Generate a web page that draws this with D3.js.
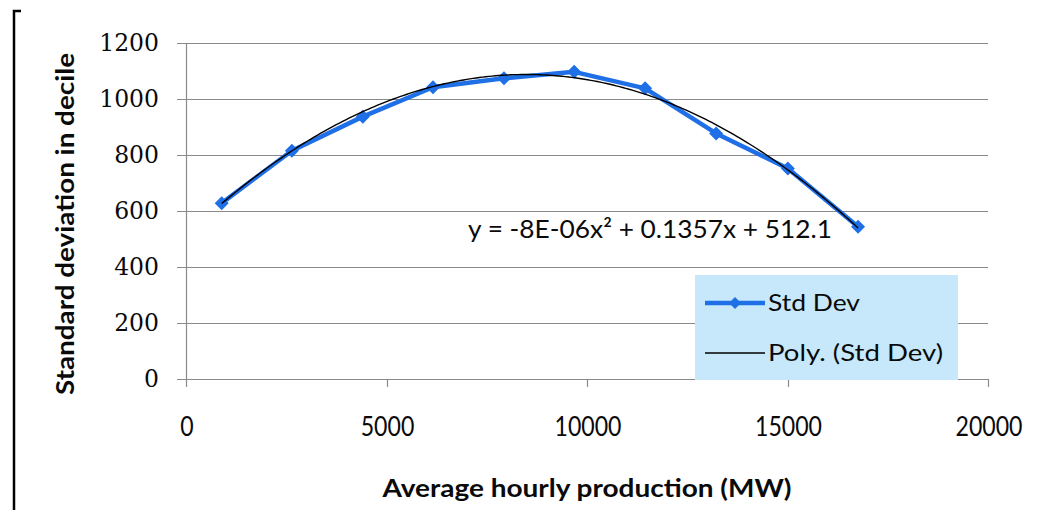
<!DOCTYPE html>
<html>
<head>
<meta charset="utf-8">
<script src="https://cdn.jsdelivr.net/npm/d3@7"></script>
<style>
  html, body { margin: 0; padding: 0; background: #fff; }
  svg { display: block; }
</style>
</head>
<body>
<script>
// ---- data ----
const production = [890, 2640, 4410, 6160, 7930, 9680, 11450, 13220, 15010, 16760];
const stdDev     = [628, 815, 937, 1042, 1074, 1097, 1038, 877, 752, 544];
const xTicks = [0, 5000, 10000, 15000, 20000];
const yTicks = [0, 200, 400, 600, 800, 1000, 1200];
const trendCoef = [512.1, 0.1357, -8e-6]; // c0, c1, c2
const equationLabel = "y = -8E-06x\u00B2 + 0.1357x + 512.1";
const seriesNames = ["Std Dev", "Poly. (Std Dev)"];
const xTitle = "Average hourly production (MW)";
const yTitle = "Standard deviation in decile";

const W = 1061, H = 510;
const svg = d3.select("body").append("svg").attr("width", W).attr("height", H);

const x = d3.scaleLinear().domain([0, 20000]).range([186, 988]);
const y = d3.scaleLinear().domain([0, 1200]).range([379, 43]);

const gridColor = "#8a8a8a";
const blue = "#1F6FE6";
const ink = "#0a0a0a";

// left bracket border
svg.append("path").attr("d", "M21,11 H14 V510").attr("fill", "none")
  .attr("stroke", "#000").attr("stroke-width", 2.5);

// gridlines
svg.append("g").selectAll("line").data(yTicks).join("line")
  .attr("x1", 177).attr("x2", x(20000))
  .attr("y1", d => Math.round(y(d)) + 0.5).attr("y2", d => Math.round(y(d)) + 0.5)
  .attr("stroke", gridColor).attr("stroke-width", 1.2);

// y axis line
svg.append("line").attr("x1", x(0) + 0.5).attr("x2", x(0) + 0.5)
  .attr("y1", y(1200)).attr("y2", y(0)).attr("stroke", gridColor).attr("stroke-width", 1.2);

// x ticks
svg.append("g").selectAll("line").data(xTicks).join("line")
  .attr("x1", d => Math.round(x(d)) + 0.5).attr("x2", d => Math.round(x(d)) + 0.5)
  .attr("y1", y(0)).attr("y2", y(0) + 8)
  .attr("stroke", gridColor).attr("stroke-width", 1.2);

// y tick labels
svg.append("g").selectAll("text").data(yTicks).join("text")
  .attr("x", 159).attr("y", d => y(d))
  .attr("dy", "0.36em")
  .attr("text-anchor", "end")
  .attr("font-family", "DejaVu Serif")
  .attr("font-size", 23.5)
  .attr("fill", ink)
  .text(d => d);

// x tick labels
svg.append("g").selectAll("text").data(xTicks).join("text")
  .attr("x", d => x(d) + 1).attr("y", 436)
  .attr("text-anchor", "middle")
  .attr("font-family", "Lato")
  .attr("font-size", 26)
  .attr("fill", ink)
  .attr("textLength", d => String(d).length * 13.4)
  .attr("lengthAdjust", "spacingAndGlyphs")
  .text(d => d);

// axis titles
svg.append("text").attr("x", 587).attr("y", 497)
  .attr("text-anchor", "middle")
  .attr("font-family", "Lato").attr("font-weight", "bold")
  .attr("font-size", 25).attr("fill", ink)
  .attr("textLength", 409).attr("lengthAdjust", "spacingAndGlyphs")
  .text(xTitle);

svg.append("text").attr("transform", "translate(74,224) rotate(-90)")
  .attr("text-anchor", "middle")
  .attr("font-family", "Lato").attr("font-weight", "bold")
  .attr("font-size", 24).attr("fill", ink)
  .attr("textLength", 342).attr("lengthAdjust", "spacingAndGlyphs")
  .text(yTitle);

// data series
const pts = production.map((p, i) => [p, stdDev[i]]);
svg.append("path").datum(pts)
  .attr("d", d3.line().x(d => x(d[0])).y(d => y(d[1])))
  .attr("fill", "none").attr("stroke", blue).attr("stroke-width", 4.5)
  .attr("stroke-linejoin", "round");

const marker = d3.symbol().type(d3.symbolSquare).size(98);
svg.append("g").selectAll("path").data(pts).join("path")
  .attr("transform", d => `translate(${x(d[0])},${y(d[1])}) rotate(45)`)
  .attr("d", marker)
  .attr("fill", blue);

// polynomial trendline
const x0 = d3.min(production), x1 = d3.max(production);
const trend = d3.range(0, 201).map(i => {
  const xv = x0 + (x1 - x0) * i / 200;
  return [xv, trendCoef[0] + trendCoef[1] * xv + trendCoef[2] * xv * xv];
});
svg.append("path").datum(trend)
  .attr("d", d3.line().x(d => x(d[0])).y(d => y(d[1])))
  .attr("fill", "none").attr("stroke", "#000").attr("stroke-width", 1.4);

// equation label
svg.append("text").attr("x", 468).attr("y", 238)
  .attr("font-family", "Lato").attr("font-size", 25).attr("fill", ink)
  .attr("textLength", 364).attr("lengthAdjust", "spacingAndGlyphs")
  .text(equationLabel);

// legend
const lg = svg.append("g");
lg.append("rect").attr("x", 695).attr("y", 275).attr("width", 263).attr("height", 105)
  .attr("fill", "#C7E8FB");
lg.append("line").attr("x1", 705).attr("x2", 765).attr("y1", 303).attr("y2", 303)
  .attr("stroke", blue).attr("stroke-width", 4.5);
lg.append("path").attr("transform", "translate(735,303) rotate(45)")
  .attr("d", d3.symbol().type(d3.symbolSquare).size(70)).attr("fill", blue);
lg.append("line").attr("x1", 705).attr("x2", 765).attr("y1", 353).attr("y2", 353)
  .attr("stroke", "#000").attr("stroke-width", 1.4);
const legLens = [92, 175];
lg.selectAll("text.leg").data(seriesNames).join("text")
  .attr("class", "leg")
  .attr("x", 768).attr("y", (d, i) => 311 + i * 50)
  .attr("font-family", "Lato").attr("font-size", 24).attr("fill", ink)
  .attr("textLength", (d, i) => legLens[i]).attr("lengthAdjust", "spacingAndGlyphs")
  .text(d => d);
</script>
</body>
</html>
